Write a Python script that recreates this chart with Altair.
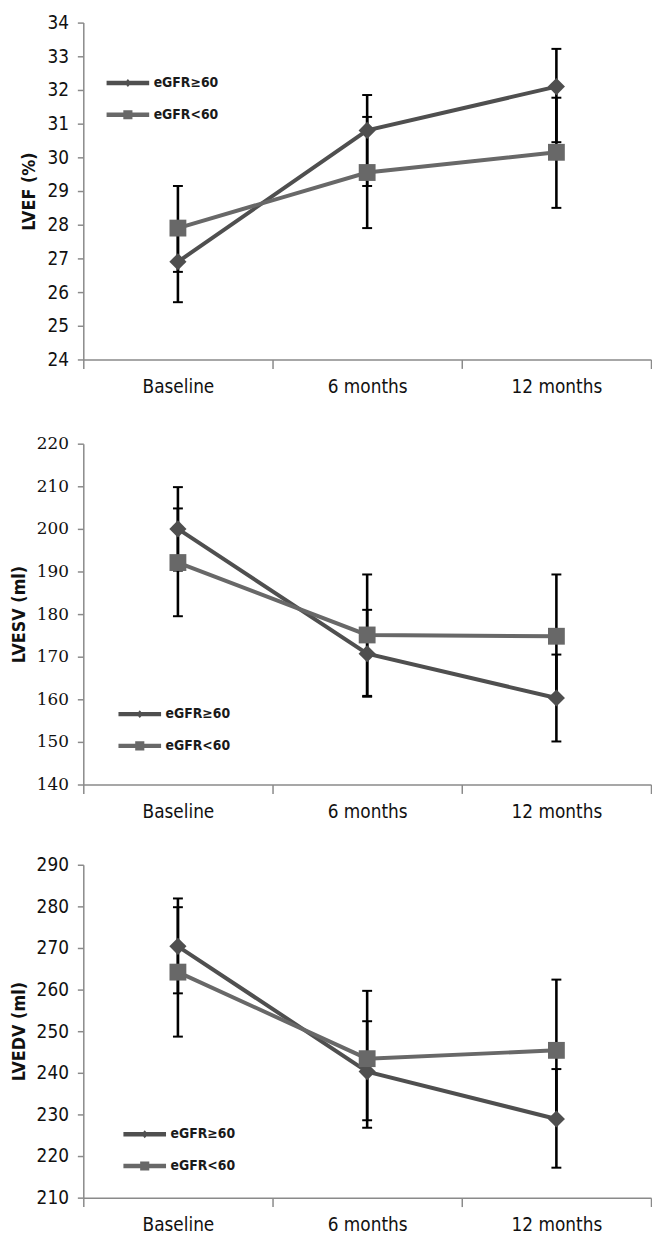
import altair as alt
import pandas as pd

times = ["Baseline", "6 months", "12 months"]
series = ["eGFR≥60", "eGFR<60"]
colors = ["#4f4f4f", "#686868"]

# LVEF (%)
lvef_ge_mean = [26.9, 30.8, 32.1]
lvef_ge_lo = [25.7, 29.15, 30.45]
lvef_ge_hi = [28.1, 31.85, 33.22]
lvef_lt_mean = [27.9, 29.55, 30.15]
lvef_lt_lo = [26.6, 27.9, 28.5]
lvef_lt_hi = [29.15, 31.2, 31.77]

# LVESV (ml)
lvesv_ge_mean = [200.0, 170.7, 160.3]
lvesv_ge_lo = [190.2, 160.6, 150.1]
lvesv_ge_hi = [209.8, 181.0, 170.5]
lvesv_lt_mean = [192.1, 175.1, 174.8]
lvesv_lt_lo = [179.5, 160.8, 160.3]
lvesv_lt_hi = [204.8, 189.3, 189.3]

# LVEDV (ml)
lvedv_ge_mean = [270.4, 240.3, 228.9]
lvedv_ge_lo = [259.1, 228.6, 217.2]
lvedv_ge_hi = [281.9, 252.4, 240.9]
lvedv_lt_mean = [264.2, 243.4, 245.4]
lvedv_lt_lo = [248.7, 226.8, 228.4]
lvedv_lt_hi = [279.8, 259.7, 262.4]

lvef_ticks = list(range(24, 35))
lvesv_ticks = list(range(140, 221, 10))
lvedv_ticks = list(range(210, 291, 10))

# legend symbols: line with marker (custom paths, unit box scaled by sqrt(size)/2)
sym_diamond = "M-2.15,-0.22H2.15V0.22H-2.15Z M0,-0.4L0.34,0L0,0.4L-0.34,0Z"
sym_square = "M-2.15,-0.22H2.15V0.22H-2.15Z M-0.46,-0.46H0.46V0.46H-0.46Z"

SANS = "DejaVu Sans Condensed, DejaVu Sans, sans-serif"
SERIF = "DejaVu Serif"


def frame(ge_m, ge_lo, ge_hi, lt_m, lt_lo, lt_hi):
    rows = []
    for s, m, lo, hi in ((series[0], ge_m, ge_lo, ge_hi), (series[1], lt_m, lt_lo, lt_hi)):
        for t, a, b, c in zip(times, m, lo, hi):
            rows.append({"time": t, "series": s, "mean": a, "lo": b, "hi": c})
    return pd.DataFrame(rows)


def panel(df, ytitle, ydomain, yticks, h, lx, ly, yfont, yfs):
    base = alt.Chart(df).properties(width=573, height=h)
    x = alt.X(
        "time:N",
        sort=times,
        scale=alt.Scale(type="band", paddingInner=0, paddingOuter=0),
        axis=alt.Axis(
            title=None, labelAngle=0, tickBand="extent", tickSize=9,
            labelPadding=9, labelFontSize=19, labelFont=SANS,
        ),
    )

    def Y(field):
        return alt.Y(
            f"{field}:Q",
            scale=alt.Scale(domain=ydomain, nice=False, zero=False),
            axis=alt.Axis(
                values=yticks, title=ytitle, tickSize=6, labelPadding=9,
                titlePadding=8, titleFontSize=18, titleFontWeight="bold",
                titleFont=SANS, labelFontSize=yfs, labelFont=yfont,
            ),
        )

    lines = base.mark_line(strokeWidth=4).encode(
        x=x, y=Y("mean"),
        stroke=alt.Stroke("series:N", scale=alt.Scale(domain=series, range=colors), legend=None),
    )
    bars = base.mark_rule(color="black", strokeWidth=2.6).encode(x=x, y=Y("lo"), y2="hi:Q")
    caps_lo = base.mark_tick(color="black", thickness=2, size=10, opacity=1).encode(x=x, y=Y("lo"))
    caps_hi = base.mark_tick(color="black", thickness=2, size=10, opacity=1).encode(x=x, y=Y("hi"))
    m_ge = base.transform_filter(alt.datum.series == series[0]).mark_point(
        shape="diamond", filled=True, size=300, opacity=1, color=colors[0]
    ).encode(x=x, y=Y("mean"))
    m_lt = base.transform_filter(alt.datum.series == series[1]).mark_point(
        shape="square", filled=True, size=289, opacity=1, color=colors[1]
    ).encode(x=x, y=Y("mean"))

    leg = alt.Legend(
        title=None, orient="none", legendX=lx, legendY=ly, padding=0,
        symbolSize=400, symbolStrokeWidth=0, symbolOpacity=1,
        labelFont=SANS, labelFontSize=14, labelFontWeight="bold", labelColor="#1a1a1a",
        labelOffset=16, rowPadding=15,
    )
    legend_layer = base.mark_point(filled=True, size=400, opacity=0).encode(
        x=x, y=Y("mean"),
        color=alt.Color("series:N", scale=alt.Scale(domain=series, range=colors), legend=leg),
        shape=alt.Shape("series:N", scale=alt.Scale(domain=series, range=[sym_diamond, sym_square]), legend=leg),
    )
    return alt.layer(legend_layer, lines, bars, caps_lo, caps_hi, m_ge, m_lt)


df1 = frame(lvef_ge_mean, lvef_ge_lo, lvef_ge_hi, lvef_lt_mean, lvef_lt_lo, lvef_lt_hi)
df2 = frame(lvesv_ge_mean, lvesv_ge_lo, lvesv_ge_hi, lvesv_lt_mean, lvesv_lt_lo, lvesv_lt_hi)
df3 = frame(lvedv_ge_mean, lvedv_ge_lo, lvedv_ge_hi, lvedv_lt_mean, lvedv_lt_lo, lvedv_lt_hi)

p1 = panel(df1, "LVEF (%)", [24, 34], lvef_ticks, 340, 35, 51, SANS, 19)
p2 = panel(df2, "LVESV (ml)", [140, 220], lvesv_ticks, 344, 47, 263, SERIF, 17)
p3 = panel(df3, "LVEDV (ml)", [210, 290], lvedv_ticks, 336, 52, 262, SANS, 19)

RES = dict(x="independent", y="independent", color="independent",
           shape="independent", stroke="independent")

top = (
    alt.vconcat(p1, p2, spacing=39)
    .resolve_scale(**RES)
    .resolve_legend(color="independent", shape="independent")
)

chart = (
    alt.vconcat(top, p3, spacing=35)
    .resolve_scale(**RES)
    .resolve_legend(color="independent", shape="independent")
    .properties(padding={"left": 2, "top": 0, "right": 0, "bottom": 0})
    .configure_view(stroke=None)
    .configure_axis(
        domainColor="#8a8a8a", domainWidth=1.5, tickColor="#8a8a8a", tickWidth=1.5,
        labelColor="#111111", titleColor="#111111", grid=False,
    )
)

chart.save("out.html", embed_options={"renderer": "svg", "actions": False})
